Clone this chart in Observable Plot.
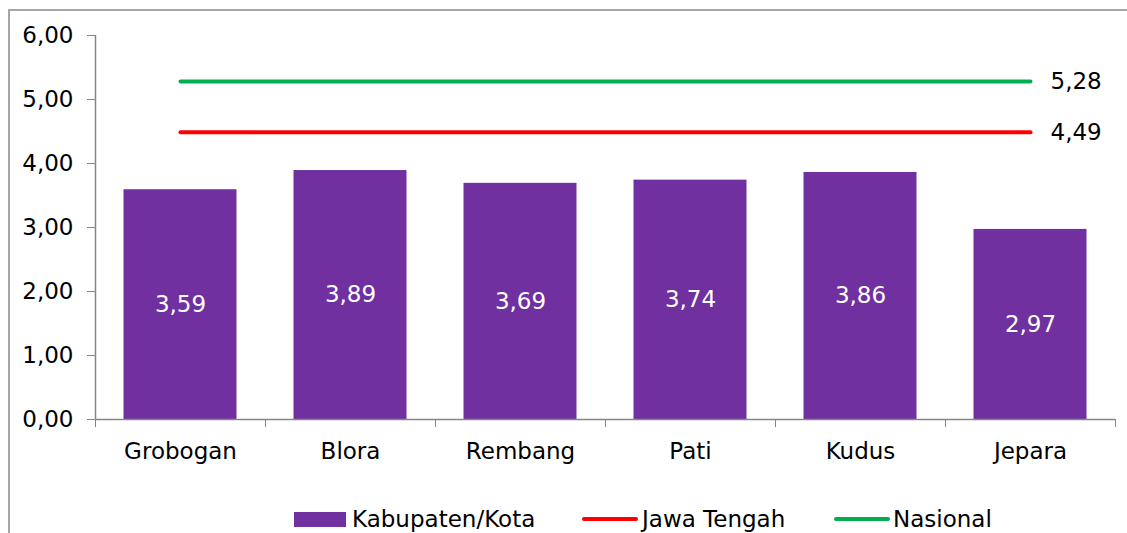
<!DOCTYPE html>
<html><head><meta charset="utf-8">
<script src="https://cdn.jsdelivr.net/npm/d3@7"></script>
<script src="https://cdn.jsdelivr.net/npm/@observablehq/plot@0.6"></script>
<style>
body{margin:0;background:#fff;font-family:"DejaVu Sans",sans-serif;}
#wrap{position:relative;width:1127px;height:533px;overflow:hidden;}
#frame{position:absolute;left:8px;top:9px;width:1200px;height:600px;border:2px solid #a6a6a6;box-sizing:border-box;pointer-events:none}
#legend{display:block}
</style></head><body><div id="wrap"><div id="frame"></div><div id="chart"></div><svg id="legend" width="1127" height="33"></svg></div>
<script>
const categories = ["Grobogan","Blora","Rembang","Pati","Kudus","Jepara"];
const kabValues = [3.59,3.89,3.69,3.74,3.86,2.97];
const jatengValue = 4.49;
const nasionalValue = 5.28;
const yTicks = [0,1,2,3,4,5,6];
const seriesNames = ["Kabupaten/Kota","Jawa Tengah","Nasional"];
const seriesColors = ["#7030A0","#FF0000","#00B050"];

const fmt = v => v.toFixed(2).replace(".", ",");
const bars = categories.map((c,i)=>({cat:c, value:kabValues[i]}));
const ends = [categories[0], categories[categories.length-1]];
const jatengLine = ends.map(c => ({cat:c, value:jatengValue}));
const nasLine = ends.map(c => ({cat:c, value:nasionalValue}));
const refLabels = [{cat:categories[categories.length-1], value:jatengValue},{cat:categories[categories.length-1], value:nasionalValue}];
const axisColor = "#868686";
const FS = 23;

const chart = Plot.plot({
  width:1127, height:500, marginLeft:95, marginRight:12, marginTop:35, marginBottom:81,
  style:{fontFamily:"DejaVu Sans", fontSize:FS+"px", color:"#000", background:"transparent"},
  x:{domain:categories, padding:0, axis:null},
  y:{domain:[0,6], axis:null},
  marks:[
    Plot.barY(bars,{x:"cat", y:"value", fill:seriesColors[0], insetLeft:28.5, insetRight:28.5}),
    Plot.text(bars,{x:"cat", y:d=>d.value/2, text:d=>fmt(d.value), fill:"white", fontSize:FS}),
    Plot.lineY(jatengLine,{x:"cat", y:"value", stroke:seriesColors[1], strokeWidth:4, strokeLinecap:"round"}),
    Plot.lineY(nasLine,{x:"cat", y:"value", stroke:seriesColors[2], strokeWidth:4, strokeLinecap:"round"}),
    Plot.text(refLabels,{x:"cat", y:"value", text:d=>fmt(d.value), textAnchor:"start", dx:20, fontSize:FS, fill:"#000"}),
    Plot.axisY({ticks:yTicks, tickFormat:fmt, tickSize:8, tickPadding:14, stroke:axisColor, fill:"#000", fontSize:FS, label:null}),
    Plot.ruleX([categories[0]], {dx:-85, y1:0, y2:6, stroke:axisColor, strokeWidth:1.5}),
    Plot.ruleY([0], {stroke:axisColor, strokeWidth:1.5}),
    Plot.axisX({ticks:categories, tickSize:8, tickFormat:()=>"", dx:-85, stroke:axisColor, label:null}),
    Plot.axisX({ticks:[categories[categories.length-1]], tickSize:8, tickFormat:()=>"", dx:85, stroke:axisColor, label:null}),
    Plot.axisX({ticks:categories, tickSize:0, tickPadding:23, fontSize:FS, fill:"#000", label:null})
  ]
});
document.getElementById("chart").appendChild(chart);

// legend
const lg = d3.select("#legend");
function label(x, y, text){
  lg.append("text").attr("x",x).attr("y",y).attr("font-family","DejaVu Sans").attr("font-size",FS).attr("fill","#000").text(text);
}
lg.append("rect").attr("x",294).attr("y",12).attr("width",52).attr("height",15).attr("fill",seriesColors[0]);
label(352, 27, seriesNames[0]);
lg.append("line").attr("x1",584).attr("x2",636).attr("y1",19).attr("y2",19).attr("stroke",seriesColors[1]).attr("stroke-width",4).attr("stroke-linecap","round");
label(642, 27, seriesNames[1]);
lg.append("line").attr("x1",836).attr("x2",888).attr("y1",19).attr("y2",19).attr("stroke",seriesColors[2]).attr("stroke-width",4).attr("stroke-linecap","round");
label(893, 27, seriesNames[2]);
</script></body></html>
